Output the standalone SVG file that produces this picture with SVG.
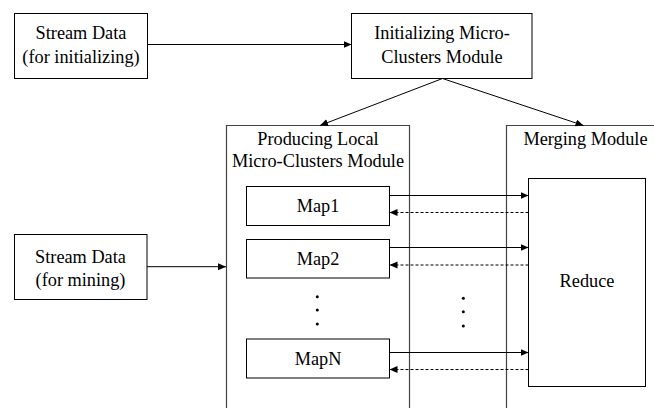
<svg xmlns="http://www.w3.org/2000/svg" width="654" height="408" viewBox="0 0 654 408">
<defs>
<marker id="ah" markerUnits="userSpaceOnUse" markerWidth="10" markerHeight="8" refX="8" refY="3.5" orient="auto">
<path d="M0,0 L8,3.5 L0,7 Z" fill="#000"/>
</marker>
<style>
.box{fill:#fff;stroke:#000;stroke-width:1}
.cont{fill:none;stroke:#444;stroke-width:1.2}
.t{font-size:18.3px;fill:#000;text-anchor:middle}
.c{stroke:#000;stroke-width:1;fill:none}
.d{stroke:#000;stroke-width:1;fill:none;stroke-dasharray:3 2}
.dot{fill:#000}
</style>
</defs>
<rect width="654" height="408" fill="#fff"/>
<g font-family="'Liberation Serif', 'Times New Roman', 'DejaVu Serif', serif">
<g id="stream-init">
<rect class="box" x="14.5" y="13.5" width="133" height="65"/>
<text class="t" x="81" y="39.3">Stream Data</text>
<text class="t" x="81" y="63.3">(for initializing)</text>
</g>

<g id="init-module">
<rect class="box" x="351.5" y="13.5" width="180.5" height="65"/>
<text class="t" x="442" y="39.3">Initializing Micro-</text>
<text class="t" x="442" y="63.3">Clusters Module</text>
</g>

<g id="producing">
<path class="cont" d="M226.5,412 V125.5 H409.5 V412"/>
<text class="t" x="318" y="145">Producing Local</text>
<text class="t" x="318" y="166.7">Micro-Clusters Module</text>
</g>

<g id="merging">
<path class="cont" d="M506.5,412 V125.5 H662"/>
<text class="t" x="585.5" y="145">Merging Module</text>
</g>

<g id="reduce">
<rect class="box" x="528.5" y="178.5" width="117" height="208"/>
<text class="t" x="587" y="286.7">Reduce</text>
</g>

<g id="map1">
<rect class="box" x="246.5" y="186.5" width="143" height="39"/>
<text class="t" x="318" y="211.7">Map1</text>
</g>

<g id="map2">
<rect class="box" x="246.5" y="239.5" width="143" height="38.5"/>
<text class="t" x="318" y="264.5">Map2</text>
</g>

<g id="mapN">
<rect class="box" x="246.5" y="339" width="143" height="39"/>
<text class="t" x="318" y="364.5">MapN</text>
</g>

<g id="stream-mining">
<rect class="box" x="14.5" y="234.5" width="132.5" height="65"/>
<text class="t" x="80.5" y="262.5">Stream Data</text>
<text class="t" x="80.5" y="285.5">(for mining)</text>
</g>
</g>

<g id="ellipsis-left">
<circle class="dot" cx="317.3" cy="296.7" r="1.5"/>
<circle class="dot" cx="317.3" cy="310" r="1.5"/>
<circle class="dot" cx="317.3" cy="324" r="1.5"/>
</g>
<g id="ellipsis-mid">
<circle class="dot" cx="463.3" cy="298.3" r="1.5"/>
<circle class="dot" cx="463.3" cy="311.7" r="1.5"/>
<circle class="dot" cx="463.3" cy="326" r="1.5"/>
</g>

<g id="connectors">
<line class="c" x1="147.5" y1="44.5" x2="351.5" y2="44.5" marker-end="url(#ah)"/>
<line class="c" x1="442.5" y1="78.5" x2="320" y2="125.5" marker-end="url(#ah)"/>
<line class="c" x1="442.5" y1="78.5" x2="583.5" y2="125.5" marker-end="url(#ah)"/>
<line class="c" x1="147" y1="266.7" x2="226" y2="266.7" marker-end="url(#ah)"/>
<line class="c" x1="389.5" y1="195.5" x2="528.5" y2="195.5" marker-end="url(#ah)"/>
<line class="d" x1="528.5" y1="212.5" x2="389.5" y2="212.5" marker-end="url(#ah)"/>
<line class="c" x1="389.5" y1="247.5" x2="528.5" y2="247.5" marker-end="url(#ah)"/>
<line class="d" x1="528.5" y1="265" x2="389.5" y2="265" marker-end="url(#ah)"/>
<line class="c" x1="389.5" y1="352.5" x2="528.5" y2="352.5" marker-end="url(#ah)"/>
<line class="d" x1="528.5" y1="369.5" x2="389.5" y2="369.5" marker-end="url(#ah)"/>
</g>
</svg>
